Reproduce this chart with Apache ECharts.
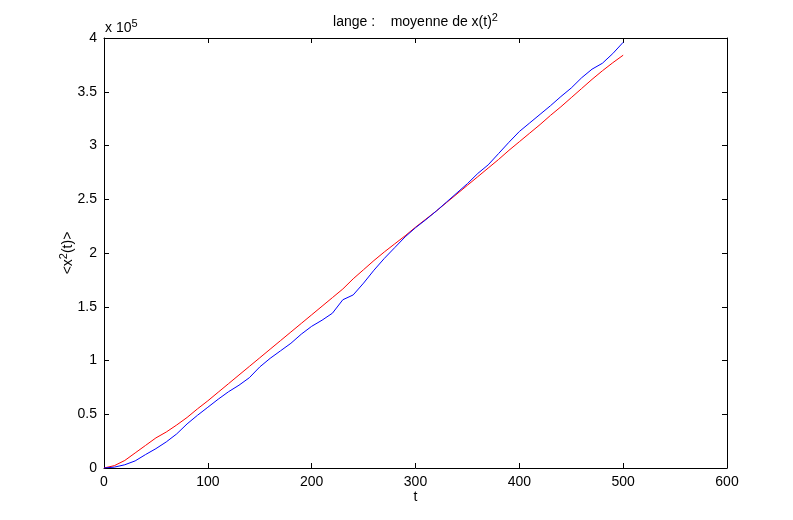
<!DOCTYPE html>
<html>
<head>
<meta charset="utf-8">
<script src="https://cdn.jsdelivr.net/npm/echarts@6/dist/echarts.min.js"></script>
<style>
html,body{margin:0;padding:0;background:#fff;}
#chart{width:793px;height:520px;}
</style>
</head>
<body>
<div id="chart"></div>
<script>
// time values (t)
var tValues = [0,10,20,30,40,50,60,70,80,90,100,110,120,130,140,150,160,170,180,190,200,210,220,230,240,250,260,270,280,290,300,310,320,330,340,350,360,370,380,390,400,410,420,430,440,450,460,470,480,490,500];
// red series (units of 1e5)
var redValues = [0,0.022,0.07,0.14,0.21,0.28,0.335,0.40,0.47,0.55,0.625,0.705,0.785,0.865,0.945,1.025,1.105,1.185,1.265,1.345,1.425,1.505,1.585,1.665,1.76,1.845,1.93,2.01,2.085,2.16,2.24,2.315,2.39,2.47,2.55,2.63,2.71,2.79,2.87,2.955,3.035,3.115,3.195,3.28,3.36,3.445,3.53,3.615,3.695,3.77,3.84];
// blue series (units of 1e5)
var blueValues = [0,0.008,0.03,0.066,0.125,0.18,0.243,0.317,0.41,0.49,0.565,0.64,0.71,0.77,0.84,0.94,1.02,1.09,1.16,1.245,1.318,1.375,1.44,1.565,1.61,1.72,1.84,1.95,2.05,2.15,2.235,2.31,2.39,2.475,2.56,2.645,2.74,2.82,2.925,3.03,3.13,3.21,3.29,3.37,3.455,3.535,3.63,3.71,3.765,3.855,3.96];
var xTicks = {min:0, max:600, interval:100};
var yTicks = {min:0, max:4, interval:0.5};

function pairs(vals){ return tValues.map(function(t,i){ return [t, vals[i]]; }); }

var FONT = "'Liberation Sans Narrow','Liberation Sans',Arial,sans-serif";
var chart = echarts.init(document.getElementById('chart'));
function axisBase(pos, showLabel){
  return {
    type:'value', position:pos,
    axisLine:{show:true, onZero:false, lineStyle:{color:'#000', width:1}},
    axisTick:{show:true, inside:true, length:5, lineStyle:{color:'#000', width:1}},
    splitLine:{show:false},
    axisLabel:{show:showLabel, color:'#000', fontSize:14, fontFamily:FONT, margin:7}
  };
}
var xa0 = Object.assign(axisBase('bottom', true), xTicks);
var xa1 = Object.assign(axisBase('top', false), xTicks);
var ya0 = Object.assign(axisBase('left', true), yTicks);
var ya1 = Object.assign(axisBase('right', false), yTicks);

chart.setOption({
  animation:false,
  backgroundColor:'#fff',
  grid:{left:104, top:38, right:66, bottom:52, containLabel:false},
  xAxis:[xa0, xa1],
  yAxis:[ya0, ya1],
  series:[
    {type:'line', data:pairs(redValues), showSymbol:false, lineStyle:{color:'#ff0000', width:1}, itemStyle:{color:'#ff0000'}},
    {type:'line', data:pairs(blueValues), showSymbol:false, lineStyle:{color:'#0000ff', width:1}, itemStyle:{color:'#0000ff'}}
  ],
  graphic:[
    {type:'text', x:415.5, y:22, style:{text:'{a|lange :    moyenne de x(t)}{s|2}', align:'center', verticalAlign:'middle',
      rich:{a:{fontSize:14, fontFamily:FONT, fill:'#000'}, s:{fontSize:11, fontFamily:FONT, fill:'#000', padding:[0,0,9,0]}}}},
    {type:'text', x:105, y:28, style:{text:'{a|x 10}{s|5}', align:'left', verticalAlign:'middle',
      rich:{a:{fontSize:14, fontFamily:FONT, fill:'#000'}, s:{fontSize:11, fontFamily:FONT, fill:'#000', padding:[0,0,9,0]}}}},
    {type:'text', x:415.5, y:497, style:{text:'t', align:'center', verticalAlign:'middle', fontSize:14, fontFamily:FONT, fill:'#000'}},
    {type:'text', x:68, y:253, rotation:Math.PI/2, style:{text:'{a|<x}{s|2}{a|(t)>}', align:'center', verticalAlign:'middle',
      rich:{a:{fontSize:14, fontFamily:FONT, fill:'#000'}, s:{fontSize:11, fontFamily:FONT, fill:'#000', padding:[0,0,9,0]}}}}
  ]
});
</script>
</body>
</html>
